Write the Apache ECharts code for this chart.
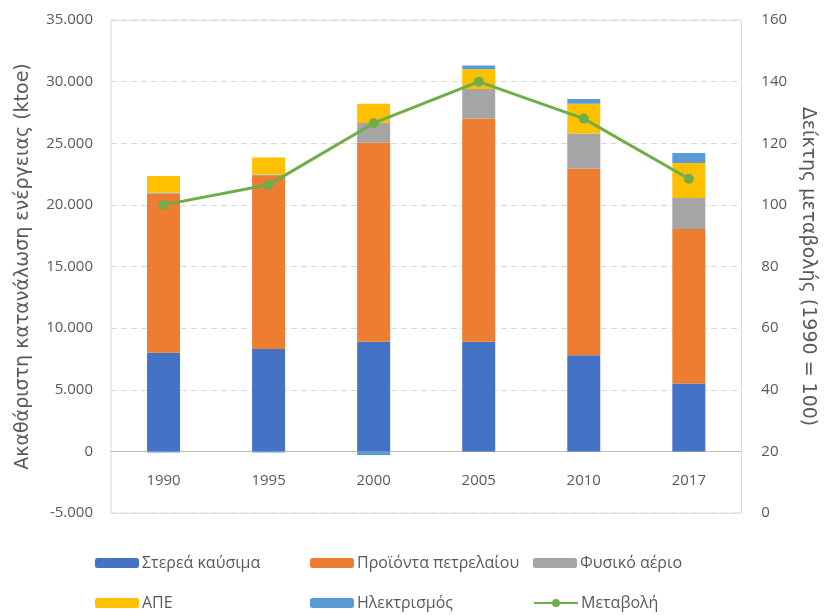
<!DOCTYPE html>
<html>
<head>
<meta charset="utf-8">
<script src="https://cdn.jsdelivr.net/npm/echarts@6/dist/echarts.min.js"></script>
<style>
  html, body { margin: 0; padding: 0; background: #fff; }
  #chart { width: 825px; height: 615px; }
</style>
</head>
<body>
<div id="chart"></div>
<script>
// δεδομένα (ktoe)
const years = ['1990', '1995', '2000', '2005', '2010', '2017'];
const solidFuels = [8000, 8300, 8900, 8900, 7800, 5500];
const oilProducts = [12900, 14050, 16150, 18100, 15150, 12550];
const naturalGas = [100, 100, 1600, 2400, 2850, 2500];
const renewables = [1350, 1400, 1550, 1600, 2400, 2850];
const electricity = [-100, -100, -300, 300, 400, 800];
const changeIndex = [100, 106.5, 126.5, 140, 128, 108.5];

const FONT = 'Open Sans';
const NAME_FONT = 'DejaVu Sans';
const TXT = '#595959';

const chart = echarts.init(document.getElementById('chart'));

const fmtThousands = v => {
  const s = Math.abs(v).toString().replace(/\B(?=(\d{3})+(?!\d))/g, '.');
  return (v < 0 ? '-' : '') + s;
};

const barSeries = (name, data, color) => ({
  name,
  type: 'bar',
  stack: 'total',
  data,
  barWidth: 33,
  itemStyle: {color},
  emphasis: {disabled: true}
});

// ένα legend ανά στοιχείο για ακριβή θέση
const legendAt = (name, left, top) => ({
  data: [name],
  left,
  top,
  padding: 0,
  itemWidth: 44,
  itemHeight: 10,
  itemGap: 0,
  textStyle: {fontFamily: FONT, fontSize: 16, color: TXT, padding: [0, 0, 0, -2]}
});

const option = {
  animation: false,
  textStyle: {fontFamily: FONT},
  grid: {left: 111, right: 75, top: 20, bottom: 102, show: true, borderColor: '#d9d9d9', borderWidth: 1},
  legend: [
    legendAt('Στερεά καύσιμα', 95, 555),
    legendAt('Προϊόντα πετρελαίου', 310, 555),
    legendAt('Φυσικό αέριο', 533, 555),
    legendAt('ΑΠΕ', 95, 595),
    legendAt('Ηλεκτρισμός', 310, 595),
    legendAt('Μεταβολή', 533, 595)
  ],
  xAxis: {
    type: 'category',
    data: years,
    offset: -62,
    axisLine: {onZero: false, lineStyle: {color: '#bfbfbf', width: 1}},
    axisTick: {show: false},
    axisLabel: {color: TXT, fontSize: 15, margin: 22}
  },
  yAxis: [
    {
      type: 'value',
      min: -5000,
      max: 35000,
      interval: 5000,
      name: 'Ακαθάριστη κατανάλωση ενέργειας (ktoe)',
      nameLocation: 'middle',
      nameGap: 78,
      nameTextStyle: {color: TXT, fontSize: 19, fontFamily: NAME_FONT},
      axisLine: {show: false},
      axisTick: {show: false},
      axisLabel: {color: TXT, fontSize: 15, margin: 18, formatter: fmtThousands},
      splitLine: {lineStyle: {color: '#d9d9d9', type: [6, 4]}}
    },
    {
      type: 'value',
      min: 0,
      max: 160,
      interval: 20,
      position: 'right',
      name: 'Δείκτης μεταβολής (1990 = 100)',
      nameLocation: 'middle',
      nameGap: 54,
      nameRotate: -90,
      nameTextStyle: {color: TXT, fontSize: 19, fontFamily: NAME_FONT},
      axisLine: {show: false},
      axisTick: {show: false},
      axisLabel: {color: TXT, fontSize: 15, margin: 20},
      splitLine: {show: false}
    }
  ],
  series: [
    barSeries('Στερεά καύσιμα', solidFuels, '#4472C4'),
    barSeries('Προϊόντα πετρελαίου', oilProducts, '#ED7D31'),
    barSeries('Φυσικό αέριο', naturalGas, '#A5A5A5'),
    barSeries('ΑΠΕ', renewables, '#FFC000'),
    barSeries('Ηλεκτρισμός', electricity, '#5B9BD5'),
    {
      name: 'Μεταβολή',
      type: 'line',
      yAxisIndex: 1,
      data: changeIndex,
      symbol: 'circle',
      symbolSize: 10,
      itemStyle: {color: '#70AD47'},
      lineStyle: {color: '#70AD47', width: 3},
      emphasis: {disabled: true}
    }
  ]
};

chart.setOption(option);
</script>
</body>
</html>
